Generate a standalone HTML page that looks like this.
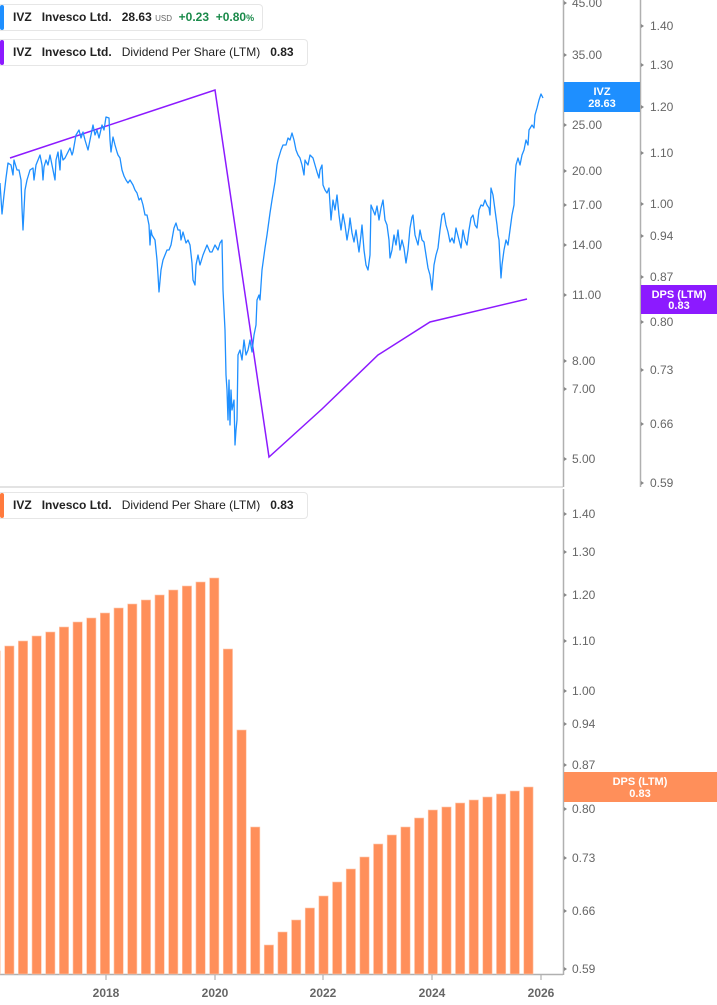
<!DOCTYPE html>
<html><head><meta charset="utf-8"><style>
html,body{margin:0;padding:0;background:#fff;}
body{width:717px;height:1005px;position:relative;overflow:hidden;font-family:"Liberation Sans",sans-serif;}
.lg{position:absolute;left:0;height:25px;background:#fff;border:1px solid #e6e6e6;border-left:none;border-radius:0 4px 4px 0;font-size:12px;color:#222;line-height:25px;white-space:nowrap;}
.lg i{position:absolute;left:0;top:0;bottom:0;width:4px;border-radius:2px;}
.lg b{font-weight:bold;}
</style></head><body>
<svg width="717" height="1005" style="position:absolute;left:0;top:0" font-family="Liberation Sans, sans-serif">
<rect x="0" y="486" width="563" height="2" fill="#e3e3e3"/>
<line x1="563.5" y1="0" x2="563.5" y2="487" stroke="#b0b0b0" stroke-width="1.5"/>
<line x1="640.5" y1="0" x2="640.5" y2="487" stroke="#b0b0b0" stroke-width="1.5"/>
<line x1="563.5" y1="489" x2="563.5" y2="975" stroke="#b0b0b0" stroke-width="1.5"/>
<line x1="0" y1="974.5" x2="563" y2="974.5" stroke="#b0b0b0" stroke-width="1.5"/>
<g stroke="#b0b0b0" stroke-width="1.2">
<line x1="106" y1="975" x2="106" y2="980"/><line x1="215" y1="975" x2="215" y2="980"/><line x1="323" y1="975" x2="323" y2="980"/><line x1="432" y1="975" x2="432" y2="980"/><line x1="541" y1="975" x2="541" y2="980"/>
</g>
<g font-size="12" font-weight="bold" fill="#666" text-anchor="middle">
<text x="106" y="997">2018</text><text x="215" y="997">2020</text><text x="323" y="997">2022</text><text x="432" y="997">2024</text><text x="541" y="997">2026</text>
</g>
<g font-size="12" fill="#666">
<text x="572" y="7">45.00</text><text x="572" y="59">35.00</text><text x="572" y="129">25.00</text><text x="572" y="175">20.00</text><text x="572" y="209">17.00</text><text x="572" y="249">14.00</text><text x="572" y="299">11.00</text><text x="572" y="365">8.00</text><text x="572" y="393">7.00</text><text x="572" y="463">5.00</text>
<text x="650" y="30">1.40</text><text x="650" y="69">1.30</text><text x="650" y="111">1.20</text><text x="650" y="157">1.10</text><text x="650" y="208">1.00</text><text x="650" y="240">0.94</text><text x="650" y="281">0.87</text><text x="650" y="326">0.80</text><text x="650" y="374">0.73</text><text x="650" y="428">0.66</text><text x="650" y="487">0.59</text>
<text x="572" y="518">1.40</text><text x="572" y="556">1.30</text><text x="572" y="599">1.20</text><text x="572" y="645">1.10</text><text x="572" y="695">1.00</text><text x="572" y="728">0.94</text><text x="572" y="769">0.87</text><text x="572" y="813">0.80</text><text x="572" y="862">0.73</text><text x="572" y="915">0.66</text><text x="572" y="973">0.59</text>
</g>
<g fill="#888">
<path d="M564 1l3 2-3 2zM564 53l3 2-3 2zM564 123l3 2-3 2zM564 169l3 2-3 2zM564 203l3 2-3 2zM564 243l3 2-3 2zM564 293l3 2-3 2zM564 359l3 2-3 2zM564 387l3 2-3 2zM564 457l3 2-3 2z"/>
<path d="M641 24l3 2-3 2zM641 63l3 2-3 2zM641 105l3 2-3 2zM641 151l3 2-3 2zM641 202l3 2-3 2zM641 234l3 2-3 2zM641 275l3 2-3 2zM641 320l3 2-3 2zM641 368l3 2-3 2zM641 422l3 2-3 2zM641 481l3 2-3 2z"/>
<path d="M564 512l3 2-3 2zM564 550l3 2-3 2zM564 593l3 2-3 2zM564 639l3 2-3 2zM564 689l3 2-3 2zM564 722l3 2-3 2zM564 763l3 2-3 2zM564 807l3 2-3 2zM564 856l3 2-3 2zM564 909l3 2-3 2zM564 967l3 2-3 2z"/>
</g>
<polyline fill="none" stroke="#8c1aff" stroke-width="1.5" points="10,158 215,90 269,457 322,409 378,355 430,322 527,299"/>
<polyline fill="none" stroke="#1e8fff" stroke-width="1.3" stroke-linejoin="round" points="0,183 2,214 4,195 6,178 8,163 11,165 13,175 14,160 17,170 19,170 21,180 22,208 23,230 25,190 27,180 30,170 33,168 34,180 36,165 40,155 42,165 43,180 44,167 46,160 48,165 50,155 52,165 55,180 56,160 58,152 60,170 61,150 63,160 65,158 68,152 70,148 72,155 73,152 76,135 79,130 81,138 83,132 85,140 88,150 90,140 93,125 95,135 97,130 99,138 102,125 104,130 106,117 109,118 110,140 111,152 113,137 115,145 117,152 118,155 120,158 122,170 124,176 126,180 128,183 130,180 133,185 135,190 137,193 139,200 141,198 143,205 145,215 147,215 149,225 150,245 151,230 152,235 155,240 156,250 157,260 158,275 159,292 161,270 163,260 165,255 167,250 169,250 171,245 174,228 176,223 178,230 180,230 181,240 183,232 186,243 188,240 190,245 192,263 193,280 195,285 196,265 198,255 200,265 203,255 205,250 207,245 210,252 212,252 215,245 218,250 220,243 222,240 223,290 225,330 226,375 227,390 228,420 229,380 230,425 231,390 232,410 234,400 235,445 236,430 237,420 238,355 240,350 242,360 244,340 246,355 248,350 250,340 252,352 254,335 256,325 257,300 259,295 260,300 262,270 265,248 267,235 270,213 272,200 275,182 277,165 278,160 281,150 283,145 286,145 288,138 290,140 292,133 294,140 296,150 298,155 300,158 302,165 304,175 305,160 306,162 308,165 310,155 313,158 315,165 317,172 319,178 320,170 322,165 323,185 325,190 327,193 329,188 331,220 333,200 335,210 337,195 339,215 341,230 343,214 345,225 347,240 349,228 350,218 352,233 354,242 356,230 358,245 359,252 361,235 362,225 364,250 366,265 368,270 370,255 371,205 373,210 375,215 377,206 379,220 381,208 383,200 385,220 387,225 389,240 390,258 392,250 394,235 396,245 398,230 400,250 402,240 404,248 406,263 408,250 410,228 412,217 413,215 415,235 418,245 420,230 422,240 424,242 426,255 428,268 430,275 432,290 434,265 436,255 438,248 440,230 442,215 444,213 446,225 448,232 450,242 452,238 454,243 456,228 457,232 459,240 461,248 463,230 465,240 467,245 469,230 471,218 473,215 475,225 477,228 479,210 481,205 483,206 485,200 487,205 489,208 490,215 491,188 493,195 495,210 497,225 498,235 499,240 500,260 501,278 502,265 504,250 506,240 508,245 510,230 512,215 514,205 515,180 516,165 518,158 520,165 522,155 524,150 526,140 528,145 529,130 532,125 534,128 535,115 537,108 539,100 541,94 543,98"/>
<g fill="#ff8f5a" stroke="#ffc9ad" stroke-width="0.6">
<rect x="-8.96" y="651" width="9.3" height="323"/>
<rect x="4.7" y="646" width="9.3" height="328"/>
<rect x="18.36" y="641" width="9.3" height="333"/>
<rect x="32.02" y="636" width="9.3" height="338"/>
<rect x="45.68" y="632" width="9.3" height="342"/>
<rect x="59.34" y="627" width="9.3" height="347"/>
<rect x="73.0" y="622" width="9.3" height="352"/>
<rect x="86.66" y="618" width="9.3" height="356"/>
<rect x="100.32" y="613" width="9.3" height="361"/>
<rect x="113.98" y="608" width="9.3" height="366"/>
<rect x="127.64" y="604" width="9.3" height="370"/>
<rect x="141.3" y="600" width="9.3" height="374"/>
<rect x="154.96" y="595" width="9.3" height="379"/>
<rect x="168.62" y="590" width="9.3" height="384"/>
<rect x="182.28" y="586" width="9.3" height="388"/>
<rect x="195.94" y="582" width="9.3" height="392"/>
<rect x="209.6" y="578" width="9.3" height="396"/>
<rect x="223.26" y="649" width="9.3" height="325"/>
<rect x="236.92" y="730" width="9.3" height="244"/>
<rect x="250.58" y="827" width="9.3" height="147"/>
<rect x="264.24" y="945" width="9.3" height="29"/>
<rect x="277.9" y="932" width="9.3" height="42"/>
<rect x="291.56" y="920" width="9.3" height="54"/>
<rect x="305.22" y="908" width="9.3" height="66"/>
<rect x="318.88" y="896" width="9.3" height="78"/>
<rect x="332.54" y="882" width="9.3" height="92"/>
<rect x="346.2" y="869" width="9.3" height="105"/>
<rect x="359.86" y="857" width="9.3" height="117"/>
<rect x="373.52" y="844" width="9.3" height="130"/>
<rect x="387.18" y="835" width="9.3" height="139"/>
<rect x="400.84" y="827" width="9.3" height="147"/>
<rect x="414.5" y="818" width="9.3" height="156"/>
<rect x="428.16" y="810" width="9.3" height="164"/>
<rect x="441.82" y="807" width="9.3" height="167"/>
<rect x="455.48" y="803" width="9.3" height="171"/>
<rect x="469.14" y="800" width="9.3" height="174"/>
<rect x="482.8" y="797" width="9.3" height="177"/>
<rect x="496.46" y="794" width="9.3" height="180"/>
<rect x="510.12" y="791" width="9.3" height="183"/>
<rect x="523.78" y="787" width="9.3" height="187"/>
</g>
<rect x="564" y="82" width="76" height="30" fill="#1e8fff"/>
<text x="602" y="95" font-size="11" font-weight="bold" fill="#fff" text-anchor="middle">IVZ</text>
<text x="602" y="107" font-size="11" font-weight="bold" fill="#fff" text-anchor="middle">28.63</text>
<rect x="641" y="285" width="76" height="29" fill="#8c1aff"/>
<text x="679" y="298" font-size="11" font-weight="bold" fill="#fff" text-anchor="middle">DPS (LTM)</text>
<text x="679" y="309" font-size="11" font-weight="bold" fill="#fff" text-anchor="middle">0.83</text>
<rect x="564" y="772" width="153" height="30" fill="#ff8f5a"/>
<text x="640" y="785" font-size="11" font-weight="bold" fill="#fff" text-anchor="middle">DPS (LTM)</text>
<text x="640" y="797" font-size="11" font-weight="bold" fill="#fff" text-anchor="middle">0.83</text>
</svg>
<div class="lg" style="top:4px;width:262px;"><i style="background:#1e8fff"></i><span style="margin-left:13px"><b>IVZ</b>&nbsp;&nbsp;&nbsp;<b>Invesco Ltd.</b>&nbsp;&nbsp;&nbsp;<b>28.63</b> <span style="font-size:8px;color:#666">USD</span>&nbsp; <b style="color:#1a8a4a">+0.23</b>&nbsp;&nbsp;<b style="color:#1a8a4a">+0.80<span style="font-size:9px">%</span></b></span></div>
<div class="lg" style="top:39px;width:307px;"><i style="background:#8c1aff"></i><span style="margin-left:13px"><b>IVZ</b>&nbsp;&nbsp;&nbsp;<b>Invesco Ltd.</b>&nbsp;&nbsp;&nbsp;Dividend Per Share (LTM)&nbsp;&nbsp;&nbsp;<b>0.83</b></span></div>
<div class="lg" style="top:492px;width:307px;"><i style="background:#ff7a3d"></i><span style="margin-left:13px"><b>IVZ</b>&nbsp;&nbsp;&nbsp;<b>Invesco Ltd.</b>&nbsp;&nbsp;&nbsp;Dividend Per Share (LTM)&nbsp;&nbsp;&nbsp;<b>0.83</b></span></div>
</body></html>
